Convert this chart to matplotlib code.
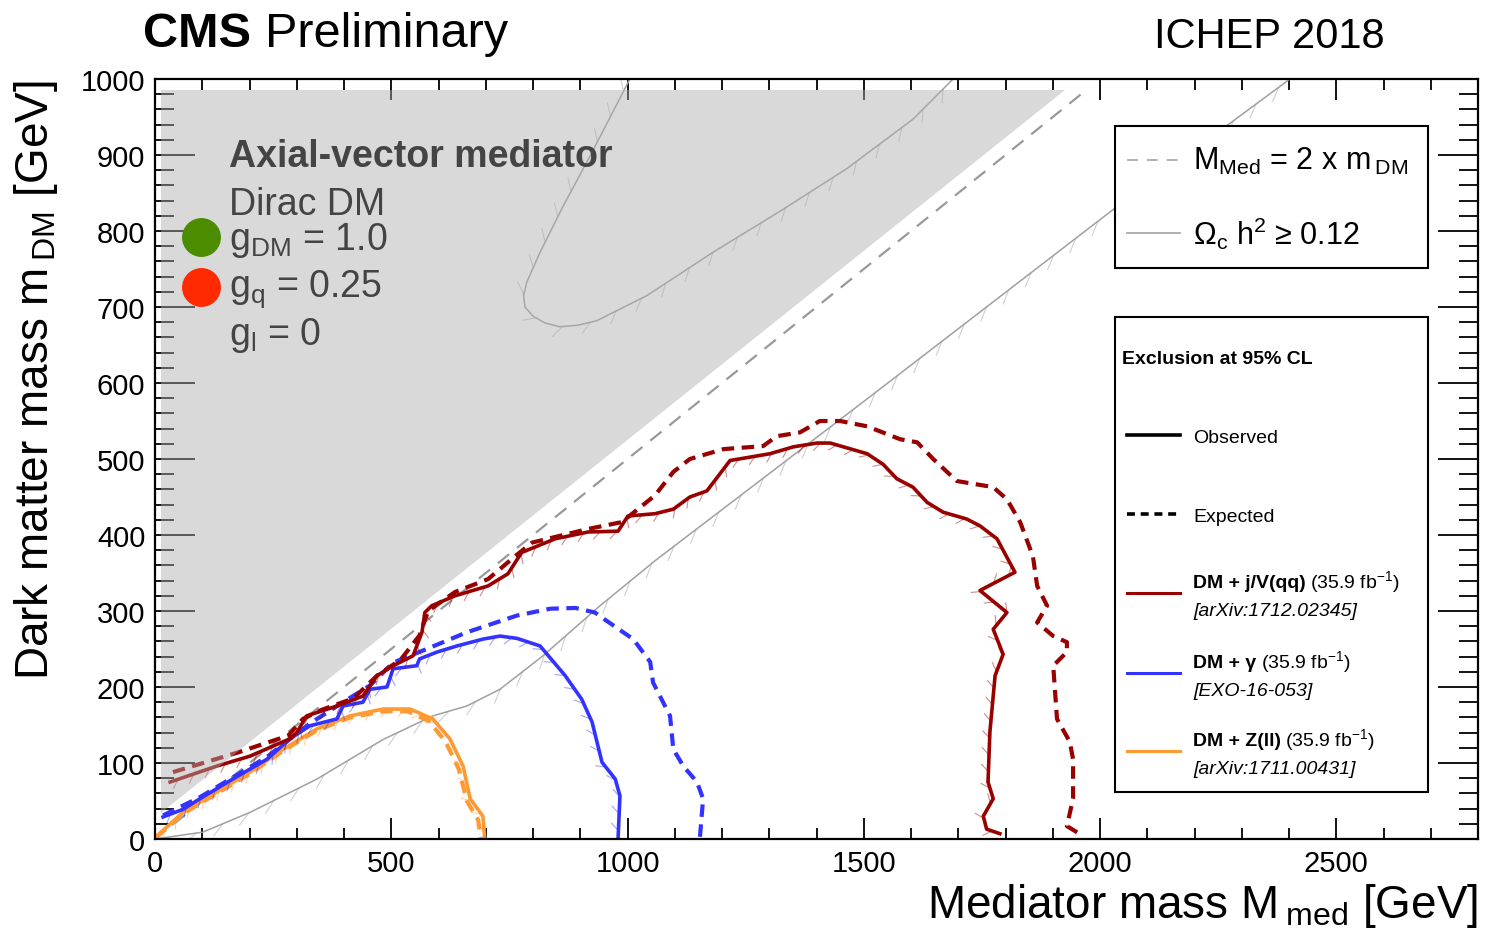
import numpy as np
import matplotlib
matplotlib.use("Agg")
import matplotlib.pyplot as plt
import matplotlib.patheffects as pe
from matplotlib.patches import Rectangle, Polygon
from matplotlib.lines import Line2D
from matplotlib.ticker import MultipleLocator

plt.rcParams['font.family'] = ['Liberation Sans', 'DejaVu Sans']
plt.rcParams['mathtext.fontset'] = 'custom'
plt.rcParams['mathtext.rm'] = 'Liberation Sans'
plt.rcParams['mathtext.it'] = 'Liberation Sans:italic'
plt.rcParams['mathtext.bf'] = 'Liberation Sans:bold'

# ---- data (GeV) ----
red_obs_x = [32, 131, 201, 286, 300, 321, 385, 440, 470, 504, 546, 565, 571, 586, 635, 705, 747, 776,
             847, 917, 980, 1001, 1058, 1097, 1132, 1168, 1217, 1302, 1351, 1401, 1429, 1507, 1541,
             1570, 1604, 1634, 1668, 1718, 1746, 1782, 1820, 1746, 1803, 1774, 1795, 1778, 1767,
             1763, 1774, 1753, 1760, 1788]
red_obs_y = [75, 96, 109, 132, 140, 162, 175, 188, 215, 228, 241, 272, 298, 307, 320, 333, 349, 377,
             395, 404, 405, 425, 428, 434, 450, 458, 498, 507, 516, 521, 521, 507, 493,
             474, 463, 443, 430, 421, 412, 395, 351, 327, 298, 276, 243, 215, 141,
             75, 53, 30, 13, 7]

red_exp_x = [38, 176, 282, 313, 353, 420, 470, 520, 560, 578, 635, 705, 762, 798, 917, 988, 1058,
             1097, 1132, 1203, 1287, 1316, 1365, 1407, 1450, 1507, 1577, 1613, 1647, 1697, 1774,
             1803, 1831, 1858, 1867, 1888, 1867, 1901, 1930, 1930, 1901, 1909, 1936, 1943, 1943,
             1930, 1964]
red_exp_y = [88, 114, 136, 158, 170, 185, 215, 236, 268, 300, 325, 342, 372, 390, 408, 417, 452,
             483, 500, 513, 517, 530, 535, 550, 550, 543, 526, 522, 500, 471, 463,
             447, 417, 372, 333, 307, 285, 267, 259, 246, 228, 158, 128, 105, 53,
             17, 4]

blue_obs_x = [17, 59, 95, 165, 237, 286, 328, 385, 398, 440, 455, 491, 504, 554, 560, 597, 639, 694,
              730, 766, 815, 868, 903, 925, 946, 974, 984, 980]
blue_obs_y = [29, 39, 53, 79, 105, 132, 149, 158, 175, 180, 197, 200, 224, 228, 237, 246, 254, 263,
              267, 264, 254, 215, 184, 154, 101, 79, 57, 0]

blue_exp_x = [17, 95, 237, 328, 398, 455, 504, 575, 660, 766, 836, 890, 931, 956, 1012, 1048, 1054,
              1090, 1097, 1118, 1147, 1160, 1153]
blue_exp_y = [31, 55, 108, 152, 180, 202, 232, 250, 272, 294, 303, 304, 298, 287, 263, 233, 206,
              162, 118, 96, 75, 53, 0]

orange_obs_x = [4, 59, 131, 201, 271, 343, 413, 483, 540, 588, 624, 652, 667, 694, 698]
orange_obs_y = [4, 35, 62, 88, 118, 145, 162, 171, 171, 158, 132, 96, 53, 30, 0]

orange_exp_x = [2, 59, 131, 201, 271, 343, 413, 483, 535, 580, 615, 643, 660, 684, 690]
orange_exp_y = [2, 33, 60, 86, 116, 143, 160, 168, 168, 155, 128, 92, 50, 25, 0]

relic_low_x = [0, 101, 201, 343, 483, 588, 660, 730, 821, 942, 1058, 1507, 2021, 2402]
relic_low_y = [0, 9, 35, 79, 131, 162, 175, 197, 241, 307, 366, 579, 825, 1000]

relic_hook_x = [1005, 921, 864, 815, 787, 780, 783, 800, 825, 857, 895, 935, 1041, 1181, 1323,
                1464, 1604, 1689]
relic_hook_y = [1000, 899, 833, 772, 733, 715, 700, 688, 679, 674, 676, 682, 715, 772, 826,
                882, 947, 1000]

diag_x = [0, 1960]
diag_y = [0, 980]

shade_x = [12, 12, 1926]
shade_y = [34, 985, 985]

W, H = 1485, 937
RED, BLUE, ORANGE = '#990000', '#3333ff', '#ff9933'
RELIC = '#a0a0a0'


def fx(px):
    return px / W


def fy(py):
    return 1 - py / H


def hatch(c, spacing=12, length=0.6, alpha=0.45, angle=-135):
    # length of TickedStroke is relative to spacing
    return [pe.Normal(),
            pe.TickedStroke(angle=angle, spacing=spacing, length=length, linewidth=0.8,
                            foreground=c, alpha=alpha)]


fig = plt.figure(figsize=(W / 100, H / 100), dpi=100)
ax = fig.add_axes([fx(155), fy(840), (1478 - 155) / W, (840 - 80) / H])
ax.set_xlim(0, 2800)
ax.set_ylim(0, 1000)

# relic density lines
ax.plot(relic_low_x, relic_low_y, color=RELIC, lw=1.1, zorder=2,
        path_effects=hatch(RELIC, spacing=20, length=0.55, alpha=0.5, angle=-150))
ax.plot(relic_hook_x, relic_hook_y, color=RELIC, lw=1.1, zorder=2,
        path_effects=hatch(RELIC, spacing=20, length=0.5, alpha=0.5, angle=-140))

# M_med = 2 m_DM
ax.plot(diag_x, diag_y, color='#999999', lw=1.6, dashes=(6.5, 4.5), zorder=2)

# exclusion contours
for xs, ys, c in [(orange_exp_x, orange_exp_y, ORANGE), (blue_exp_x, blue_exp_y, BLUE),
                  (red_exp_x, red_exp_y, RED)]:
    ax.plot(xs, ys, color=c, lw=3.0, dashes=(3, 1.8), zorder=3)
for xs, ys, c in [(orange_obs_x, orange_obs_y, ORANGE), (blue_obs_x, blue_obs_y, BLUE),
                  (red_obs_x, red_obs_y, RED)]:
    ax.plot(xs, ys, color=c, lw=2.6, zorder=4, path_effects=hatch(c))

# kinematically forbidden region (drawn translucent on top)
ax.add_patch(Polygon(np.column_stack([shade_x, shade_y]), closed=True,
                     facecolor='#aeaeae', alpha=0.46, edgecolor='none', zorder=5))

ax.xaxis.set_major_locator(MultipleLocator(500))
ax.xaxis.set_minor_locator(MultipleLocator(100))
ax.yaxis.set_major_locator(MultipleLocator(100))
ax.yaxis.set_minor_locator(MultipleLocator(20))
ax.tick_params(which='both', direction='in', top=True, right=True, width=1.3, colors='black')
ax.tick_params(axis='x', which='major', length=15, pad=7, labelsize=21)
ax.tick_params(axis='x', which='minor', length=8)
ax.tick_params(axis='y', which='major', length=29, pad=7, labelsize=21)
ax.tick_params(axis='y', which='minor', length=14)
for s in ax.spines.values():
    s.set_linewidth(1.6)
    s.set_zorder(10)

# axis titles
fig.text(fx(1478), fy(918), 'Mediator mass M$\\,_{\\mathregular{med}}$ [GeV]', ha='right',
         va='baseline', fontsize=33)
fig.text(fx(36), fy(80), 'Dark matter mass m$\\,_{\\mathregular{DM}}$ [GeV]', ha='center',
         va='top', rotation=90, fontsize=33)

# header
fig.text(fx(143), fy(47), 'CMS', fontsize=35, weight='bold', va='baseline')
fig.text(fx(265), fy(47), 'Preliminary', fontsize=35, va='baseline')
fig.text(fx(1385), fy(48), 'ICHEP 2018', fontsize=30, va='baseline', ha='right')

# model text
TXT = '#444444'
fig.text(fx(229), fy(167), 'Axial-vector mediator', fontsize=27, weight='bold', color=TXT,
         va='baseline', zorder=20)
fig.text(fx(229), fy(215), 'Dirac DM', fontsize=27, color=TXT, va='baseline', zorder=20)
fig.text(fx(229), fy(250), 'g$_{\\mathregular{DM}}$ = 1.0', fontsize=27, color=TXT,
         va='baseline', zorder=20)
fig.text(fx(229), fy(297), 'g$_{\\mathregular{q}}$ = 0.25', fontsize=27, color=TXT,
         va='baseline', zorder=20)
fig.text(fx(229), fy(345), 'g$_{\\mathregular{l}}$ = 0', fontsize=27, color=TXT,
         va='baseline', zorder=20)
fig.add_artist(Line2D([fx(201)], [fy(238)], marker='o', ms=27, color='#4c8c00', lw=0))
fig.add_artist(Line2D([fx(201)], [fy(288)], marker='o', ms=27, color='#ff2a00', lw=0))

# legend box 1
fig.add_artist(Rectangle((fx(1115), fy(269)), (1428 - 1115) / W, (269 - 127) / H,
                         transform=fig.transFigure, facecolor='white', edgecolor='black',
                         lw=1.5, zorder=20))
fig.add_artist(Line2D([fx(1127), fx(1180)], [fy(161)] * 2, color='#aaaaaa', lw=1.3,
                      dashes=(6, 5), zorder=21))
fig.text(fx(1193), fy(170), 'M$_{\\mathregular{Med}}$ = 2 x m$\\,_{\\mathregular{DM}}$',
         fontsize=22, va='baseline', zorder=21)
fig.add_artist(Line2D([fx(1127), fx(1180)], [fy(234)] * 2, color='#aaaaaa', lw=1.3, zorder=21))
fig.text(fx(1193), fy(245), '$\\Omega_{\\mathregular{c}}$ h$^{\\mathregular{2}}$ \u2265 0.12',
         fontsize=22, va='baseline', zorder=21)

# legend box 2
fig.add_artist(Rectangle((fx(1115), fy(793)), (1428 - 1115) / W, (793 - 318) / H,
                         transform=fig.transFigure, facecolor='white', edgecolor='black',
                         lw=1.5, zorder=20))
fig.text(fx(1122), fy(364), 'Exclusion at 95% CL', fontsize=14, weight='bold', va='baseline',
         zorder=21)
fig.add_artist(Line2D([fx(1127), fx(1180)], [fy(436)] * 2, color='black', lw=2.6, zorder=21))
fig.text(fx(1193), fy(443), 'Observed', fontsize=14, va='baseline', zorder=21)
fig.add_artist(Line2D([fx(1127), fx(1180)], [fy(515)] * 2, color='black', lw=2.6,
                      dashes=(2.2, 1.6), zorder=21))
fig.text(fx(1193), fy(522), 'Expected', fontsize=14, va='baseline', zorder=21)

renderer = fig.canvas.get_renderer()
entries = [(594, 'DM + j/V(qq)', '[arXiv:1712.02345]', RED, 588),
           (674, 'DM + \u03b3', '[EXO-16-053]', BLUE, 668),
           (752, 'DM + Z(ll)', '[arXiv:1711.00431]', ORANGE, 746)]
for ly, bold, ref, c, ty in entries:
    fig.add_artist(Line2D([fx(1127), fx(1180)], [fy(ly)] * 2, color=c, lw=2.2, zorder=21))
    t = fig.text(fx(1193), fy(ty), bold, fontsize=14, weight='bold', va='baseline', zorder=21)
    bb = t.get_window_extent(renderer=renderer)
    fig.text(bb.x1 / W + 0.003, fy(ty), '(35.9 fb$^{\\mathregular{-1}}$)', fontsize=14,
             va='baseline', zorder=21)
    fig.text(fx(1193), fy(ty + 28), ref, fontsize=14, style='italic', va='baseline', zorder=21)

fig.savefig('out.png', dpi=100)
